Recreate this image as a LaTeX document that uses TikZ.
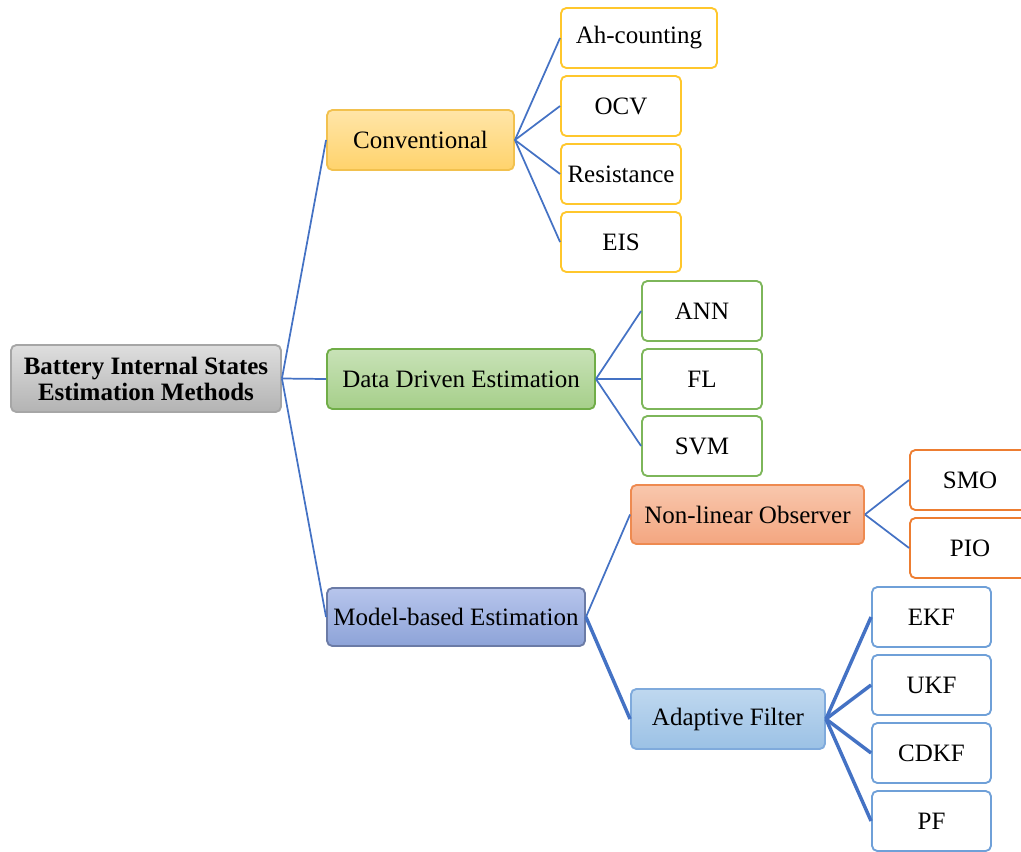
\documentclass[tikz,border=0pt]{standalone}
\usepackage{fontspec}
\setmainfont{Liberation Serif}
\definecolor{edgeblue}{HTML}{4472C4}
\definecolor{rootA}{HTML}{DEDEDE}\definecolor{rootB}{HTML}{B3B3B3}\definecolor{rootL}{HTML}{A6A6A6}
\definecolor{convA}{HTML}{FFE5A8}\definecolor{convB}{HTML}{FFD36C}\definecolor{convL}{HTML}{F2C14E}\definecolor{convK}{HTML}{FFC72C}
\definecolor{ddA}{HTML}{C8E2B7}\definecolor{ddB}{HTML}{A6CF8A}\definecolor{ddL}{HTML}{70AD47}\definecolor{ddK}{HTML}{7DB65A}
\definecolor{mbA}{HTML}{B7C5EC}\definecolor{mbB}{HTML}{8DA3D8}\definecolor{mbL}{HTML}{6B7BA6}
\definecolor{nlA}{HTML}{F8C7AD}\definecolor{nlB}{HTML}{F4A680}\definecolor{nlL}{HTML}{EE8A50}\definecolor{nlK}{HTML}{ED7D31}
\definecolor{afA}{HTML}{BFD8EF}\definecolor{afB}{HTML}{9BC1E5}\definecolor{afL}{HTML}{7FAADC}\definecolor{afK}{HTML}{6FA0D8}
\begin{document}
\begin{tikzpicture}[x=0.75pt,y=-0.75pt,
  box/.style={rectangle,rounded corners=4pt,line width=1.4pt,align=center,
    inner sep=0pt,font=\fontsize{18.75}{26}\selectfont,minimum height=45pt},
  leaf/.style={box,fill=white,minimum width=90pt},
  link/.style={draw=edgeblue,line width=1.3pt},
  thicklink/.style={draw=edgeblue,line width=2.6pt}]
\useasboundingbox (0,0) rectangle (1021,851);
\clip (0,0) rectangle (1021,851);

% root
\node[box,minimum width=202.5pt,minimum height=50.25pt,draw=rootL,top color=rootA,bottom color=rootB,
  font=\fontsize{18.75}{19.5}\selectfont\bfseries] (root) at (146,378.5) {Battery Internal States\\Estimation Methods};

% conventional branch
\node[box,minimum width=140.25pt,draw=convL,top color=convA,bottom color=convB] (conv) at (420.5,140) {Conventional};
\node[leaf,draw=convK,minimum width=117pt] (ah) at (639,38) {Ah-counting};
\node[leaf,draw=convK] (ocv) at (621,106) {OCV};
\node[leaf,draw=convK] (res) at (621,174) {Resistance};
\node[leaf,draw=convK] (eis) at (621,242) {EIS};

% data driven branch
\node[box,minimum width=201pt,draw=ddL,top color=ddA,bottom color=ddB] (dde) at (461,379) {Data Driven Estimation};
\node[leaf,draw=ddK] (ann) at (702,311) {ANN};
\node[leaf,draw=ddK] (fl) at (702,379) {FL};
\node[leaf,draw=ddK] (svm) at (702,446) {SVM};

% model based branch
\node[box,minimum width=193.5pt,minimum height=43.5pt,draw=mbL,top color=mbA,bottom color=mbB] (mbe) at (456,617) {Model-based Estimation};
\node[box,minimum width=174.75pt,minimum height=44.25pt,draw=nlL,top color=nlA,bottom color=nlB] (nlo) at (747.5,514.5) {Non-linear Observer};
\node[leaf,draw=nlK] (smo) at (970,480) {SMO};
\node[leaf,draw=nlK] (pio) at (970,548) {PIO};
\node[box,minimum width=145.5pt,draw=afL,top color=afA,bottom color=afB] (af) at (728,719) {Adaptive Filter};
\node[leaf,draw=afK,minimum width=89.25pt] (ekf) at (931.5,617) {EKF};
\node[leaf,draw=afK,minimum width=89.25pt] (ukf) at (931.5,685) {UKF};
\node[leaf,draw=afK,minimum width=89.25pt] (cdkf) at (931.5,753) {CDKF};
\node[leaf,draw=afK,minimum width=89.25pt] (pf) at (931.5,821) {PF};

% connectors
\foreach \c in {conv,dde,mbe} \draw[link] (root.east) -- (\c.west);
\foreach \c in {ah,ocv,res,eis} \draw[link] (conv.east) -- (\c.west);
\foreach \c in {ann,fl,svm} \draw[link] (dde.east) -- (\c.west);
\draw[link] (mbe.east) -- (nlo.west);
\draw[thicklink] (mbe.east) -- (af.west);
\foreach \c in {smo,pio} \draw[link] (nlo.east) -- (\c.west);
\foreach \c in {ekf,ukf,cdkf,pf} \draw[thicklink] (af.east) -- (\c.west);
\end{tikzpicture}
\end{document}
